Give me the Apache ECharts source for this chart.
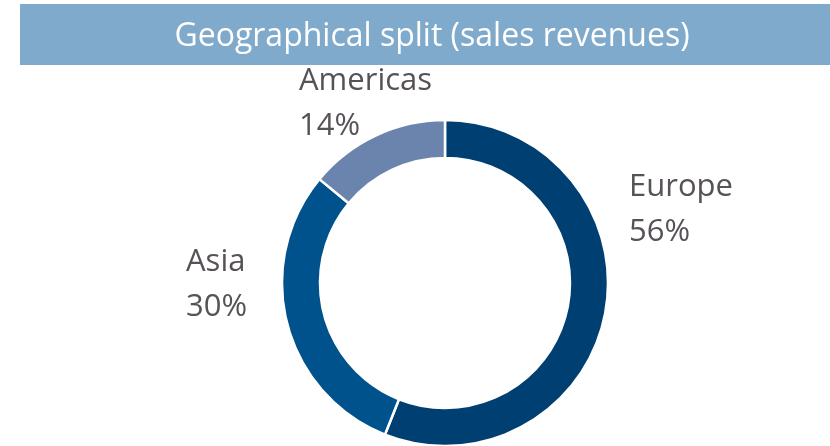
<!DOCTYPE html>
<html>
<head>
<meta charset="utf-8">
<script src="https://cdn.jsdelivr.net/npm/echarts@6/dist/echarts.min.js"></script>
<style>
html,body{margin:0;padding:0;background:#fff;}
#chart{width:830px;height:446px;}
</style>
</head>
<body>
<div id="chart"></div>
<script>
// Sales revenue split by region (percent)
var regions = ['Europe', 'Asia', 'Americas'];
var shares = [56, 30, 14];
var sliceColors = ['#003F72', '#00528C', '#6A84AD'];
var titleText = 'Geographical split (sales revenues)';

// label anchor points for each region
var labelSpots = [
  { x: 629, y: 210 },
  { x: 186, y: 285 },
  { x: 299, y: 104 }
];

var chart = echarts.init(document.getElementById('chart'));
chart.setOption({
  animation: false,
  graphic: [
    {
      type: 'rect',
      left: 20, top: 4,
      shape: { width: 810, height: 61 },
      style: { fill: '#7FAACB' }
    },
    {
      type: 'text',
      x: 432, y: 37,
      style: {
        text: titleText,
        fill: '#ffffff',
        font: '32px "Open Sans"',
        align: 'center',
        verticalAlign: 'middle'
      }
    }
  ],
  series: [{
    type: 'pie',
    center: [445, 283],
    radius: [125, 163],
    startAngle: 90,
    clockwise: true,
    percentPrecision: 0,
    itemStyle: { borderColor: '#ffffff', borderWidth: 2.5 },
    label: {
      show: true,
      formatter: '{b}\n{d}%',
      fontFamily: 'Open Sans',
      fontSize: 31,
      lineHeight: 45,
      color: '#575257'
    },
    labelLine: { show: false },
    labelLayout: function (params) {
      var p = labelSpots[params.dataIndex];
      return { x: p.x, y: p.y, align: 'left', verticalAlign: 'middle' };
    },
    data: regions.map(function (name, i) {
      return { name: name, value: shares[i], itemStyle: { color: sliceColors[i] } };
    })
  }]
});
</script>
</body>
</html>
